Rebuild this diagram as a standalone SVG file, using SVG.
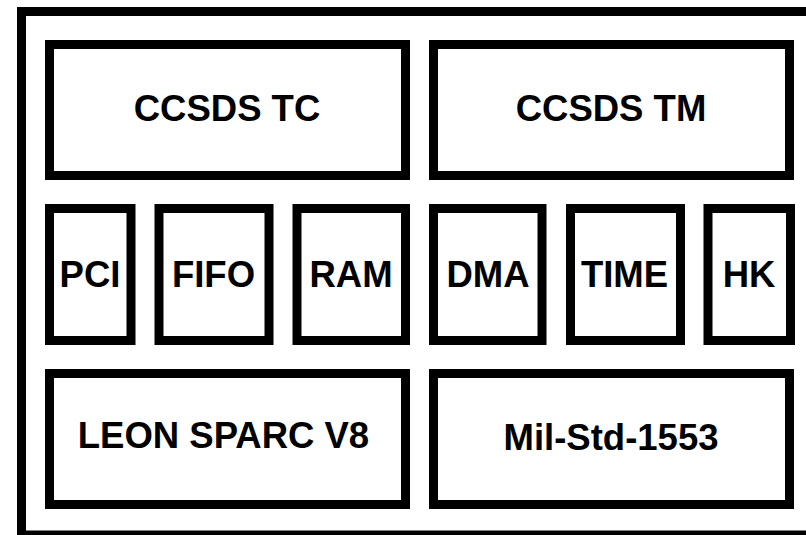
<svg xmlns="http://www.w3.org/2000/svg" width="806" height="535" viewBox="0 0 806 535">
<style>
.box{fill:#fff;stroke:#000;stroke-width:9;stroke-linejoin:miter}
.lbl{font-family:"Liberation Sans",Arial,sans-serif;font-weight:bold;font-size:36.5px;fill:#000;text-anchor:middle}
</style>
<rect width="806" height="535" fill="#fff"/>
<g id="frame"><rect class="box" x="21.5" y="11.5" width="800" height="523.5"/></g>
<g id="ccsds-tc"><rect class="box" x="49.5" y="44.5" width="356" height="131"/><text class="lbl" x="227" y="121">CCSDS TC</text></g>
<g id="ccsds-tm"><rect class="box" x="433.5" y="44.5" width="356" height="131"/><text class="lbl" x="611" y="121">CCSDS TM</text></g>
<g id="pci"><rect class="box" x="49.5" y="208.5" width="81.5" height="132"/><text class="lbl" x="90" y="287">PCI</text></g>
<g id="fifo"><rect class="box" x="159" y="208.5" width="110" height="132"/><text class="lbl" x="213.5" y="287">FIFO</text></g>
<g id="ram"><rect class="box" x="297" y="208.5" width="108.5" height="132"/><text class="lbl" x="351" y="287">RAM</text></g>
<g id="dma"><rect class="box" x="433.5" y="208.5" width="108.5" height="132"/><text class="lbl" x="488" y="287">DMA</text></g>
<g id="time"><rect class="box" x="570.5" y="208.5" width="110" height="132"/><text class="lbl" x="624.5" y="287">TIME</text></g>
<g id="hk"><rect class="box" x="708" y="208.5" width="82.5" height="132"/><text class="lbl" x="749" y="287">HK</text></g>
<g id="leon"><rect class="box" x="49.5" y="373.5" width="356" height="131"/><text class="lbl" x="223.5" y="448">LEON SPARC V8</text></g>
<g id="milstd"><rect class="box" x="433.5" y="373.5" width="356" height="131"/><text class="lbl" x="611" y="450">Mil-Std-1553</text></g>
<g id="connectors"/>
</svg>
